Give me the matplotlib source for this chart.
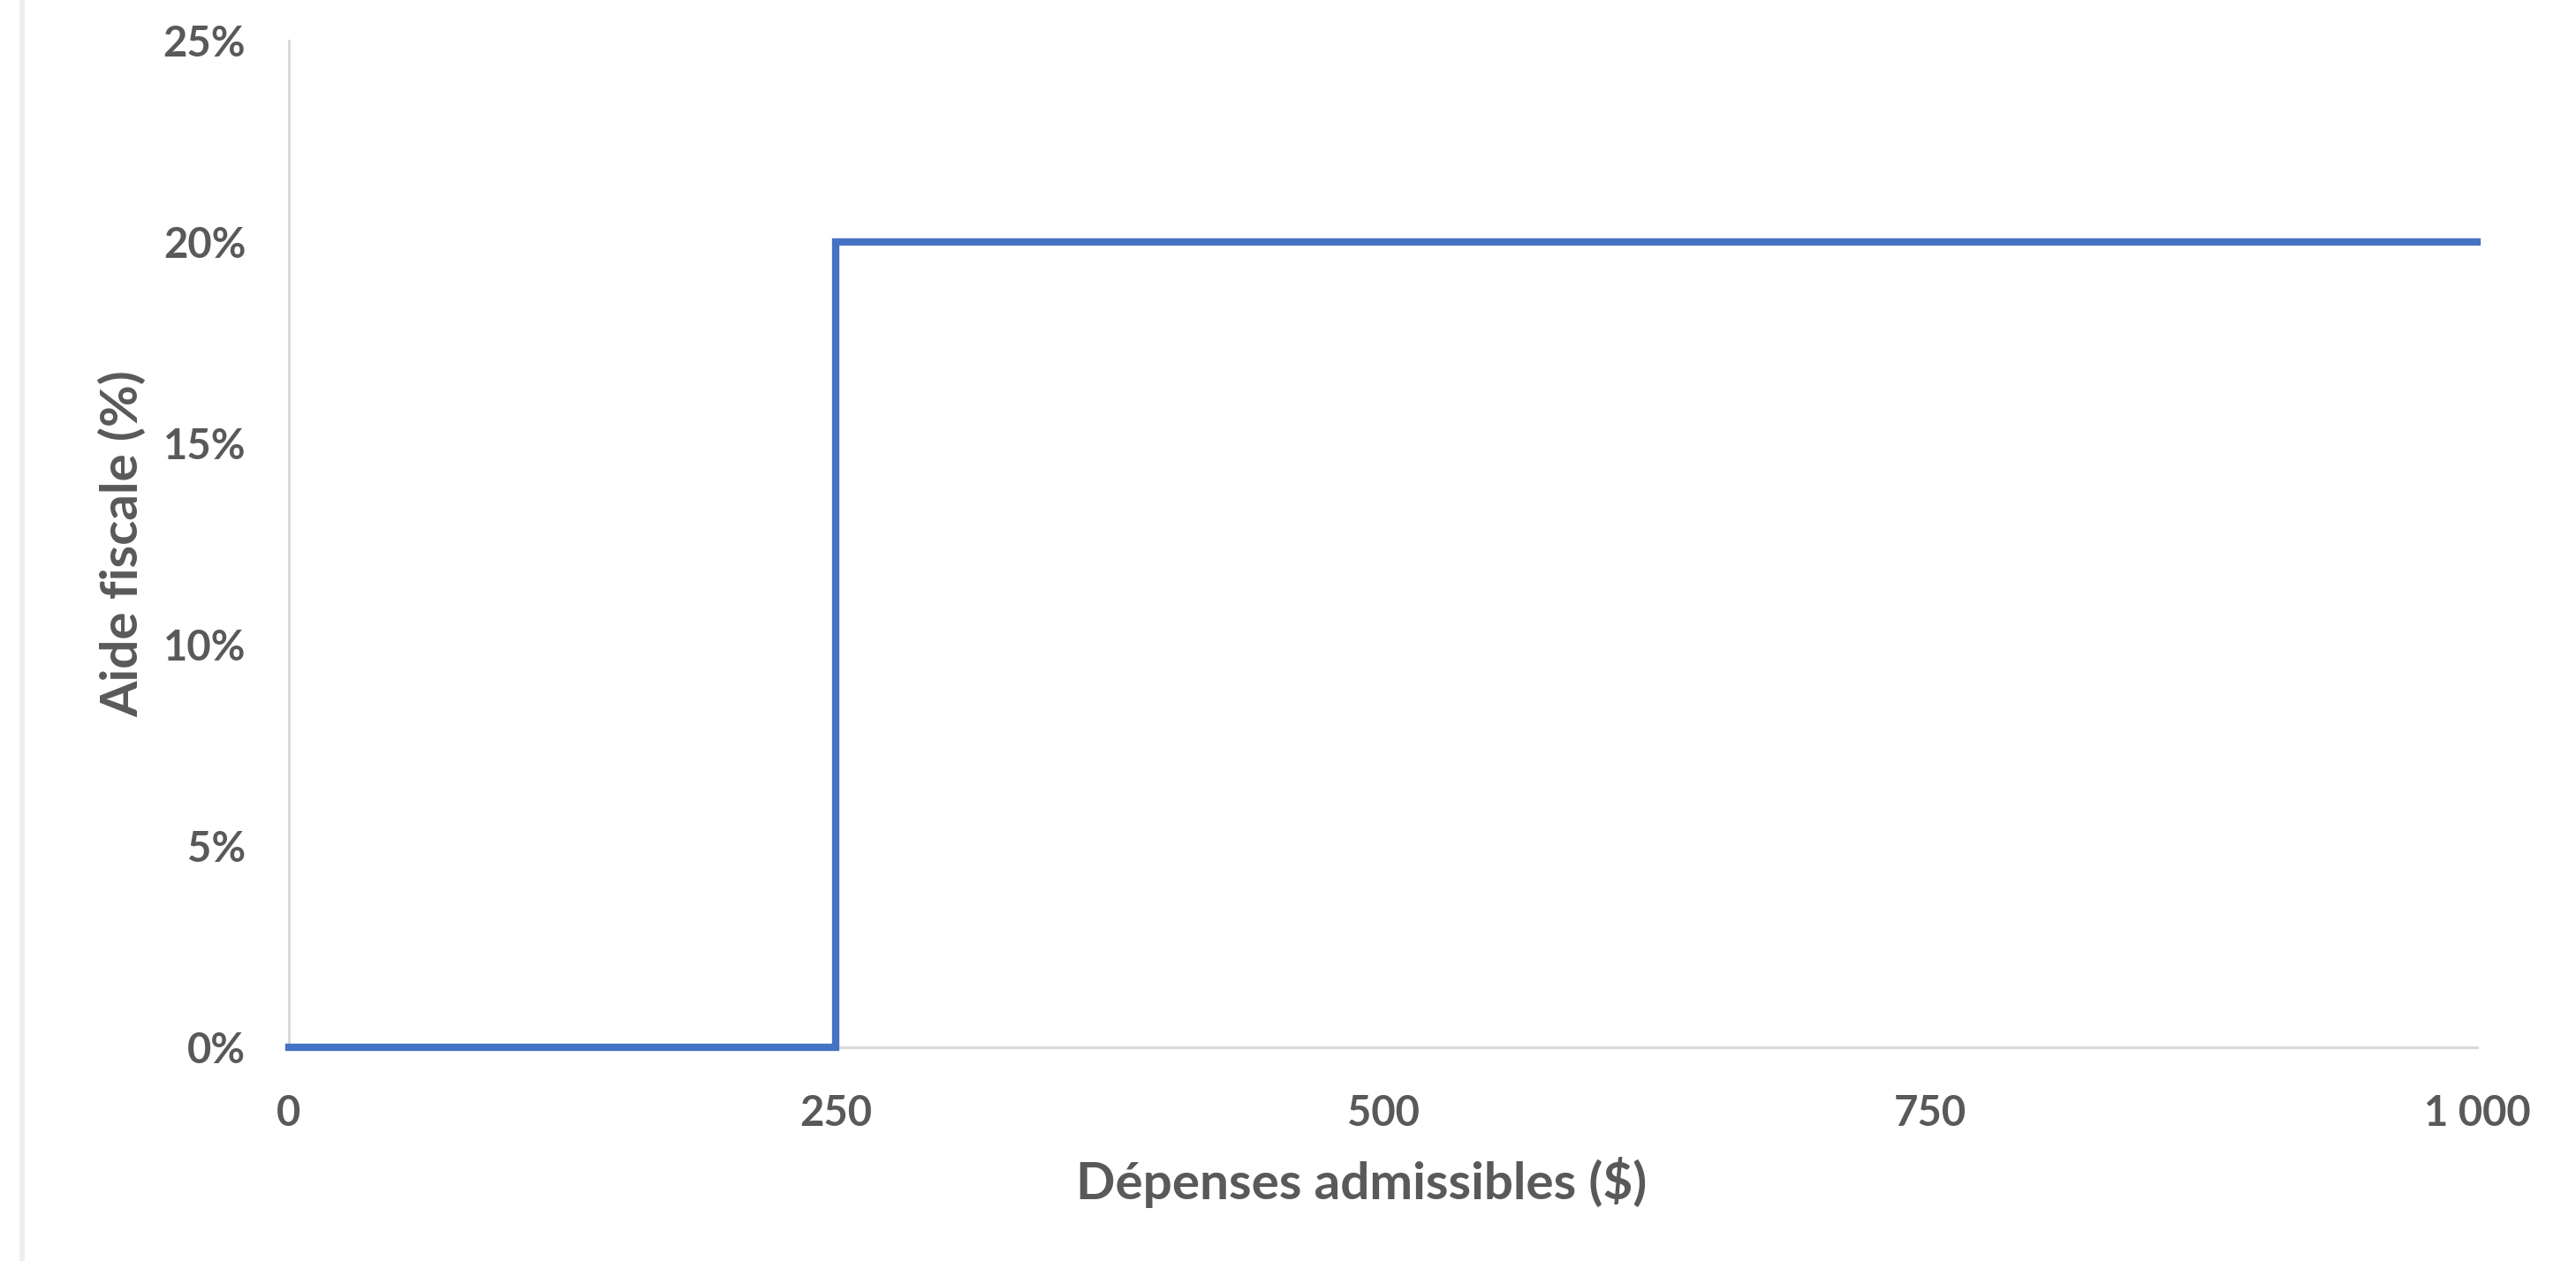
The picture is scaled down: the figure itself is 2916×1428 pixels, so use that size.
import matplotlib.pyplot as plt
from matplotlib.lines import Line2D

# Aide fiscale selon les dépenses admissibles
depenses = [0, 250, 1000]
aide = [0, 20, 20]

x_ticks = [0, 250, 500, 750, 1000]
x_labels = ['0', '250', '500', '750', '1 000']
y_ticks = [0, 5, 10, 15, 20, 25]
y_labels = ['0%', '5%', '10%', '15%', '20%', '25%']

grey = '#595959'
plt.rcParams['font.family'] = ['Lato', 'DejaVu Sans']

fig = plt.figure(figsize=(29.16, 14.28), dpi=100)
ax = fig.add_axes([0.1121, 0.1695, 0.8495, 0.7983])

ax.plot(depenses, aide, drawstyle='steps-post', color='#4472C4',
        linewidth=6, solid_joinstyle='miter', clip_on=False, zorder=3)

ax.set_xlim(0, 1000)
ax.set_ylim(0, 25)
ax.set_xticks(x_ticks)
ax.set_xticklabels(x_labels)
ax.set_yticks(y_ticks)
ax.set_yticklabels(y_labels)
ax.tick_params(length=0, labelsize=34, labelcolor=grey)
ax.tick_params(axis='x', pad=38)
ax.tick_params(axis='y', pad=35)
for lab in ax.get_xticklabels() + ax.get_yticklabels():
    lab.set_fontweight('bold')

for side in ['top', 'right']:
    ax.spines[side].set_visible(False)
for side in ['left', 'bottom']:
    ax.spines[side].set_color('#d9d9d9')
    ax.spines[side].set_linewidth(2.2)

ax.set_xlabel('Dépenses admissibles ($)', fontsize=42, fontweight='bold',
              color=grey, va='center')
ax.set_ylabel('Aide fiscale (%)', fontsize=42, fontweight='bold',
              color=grey, va='center')
ax.xaxis.set_label_coords(0.49, -0.134)
ax.yaxis.set_label_coords(-0.0759, 0.5)

# faint border of the original screenshot
fig.add_artist(Line2D([0.0086, 0.0086], [0, 1], color='#eeeeee', linewidth=4,
                      transform=fig.transFigure))

fig.savefig('out.png', dpi=100, facecolor='white')
